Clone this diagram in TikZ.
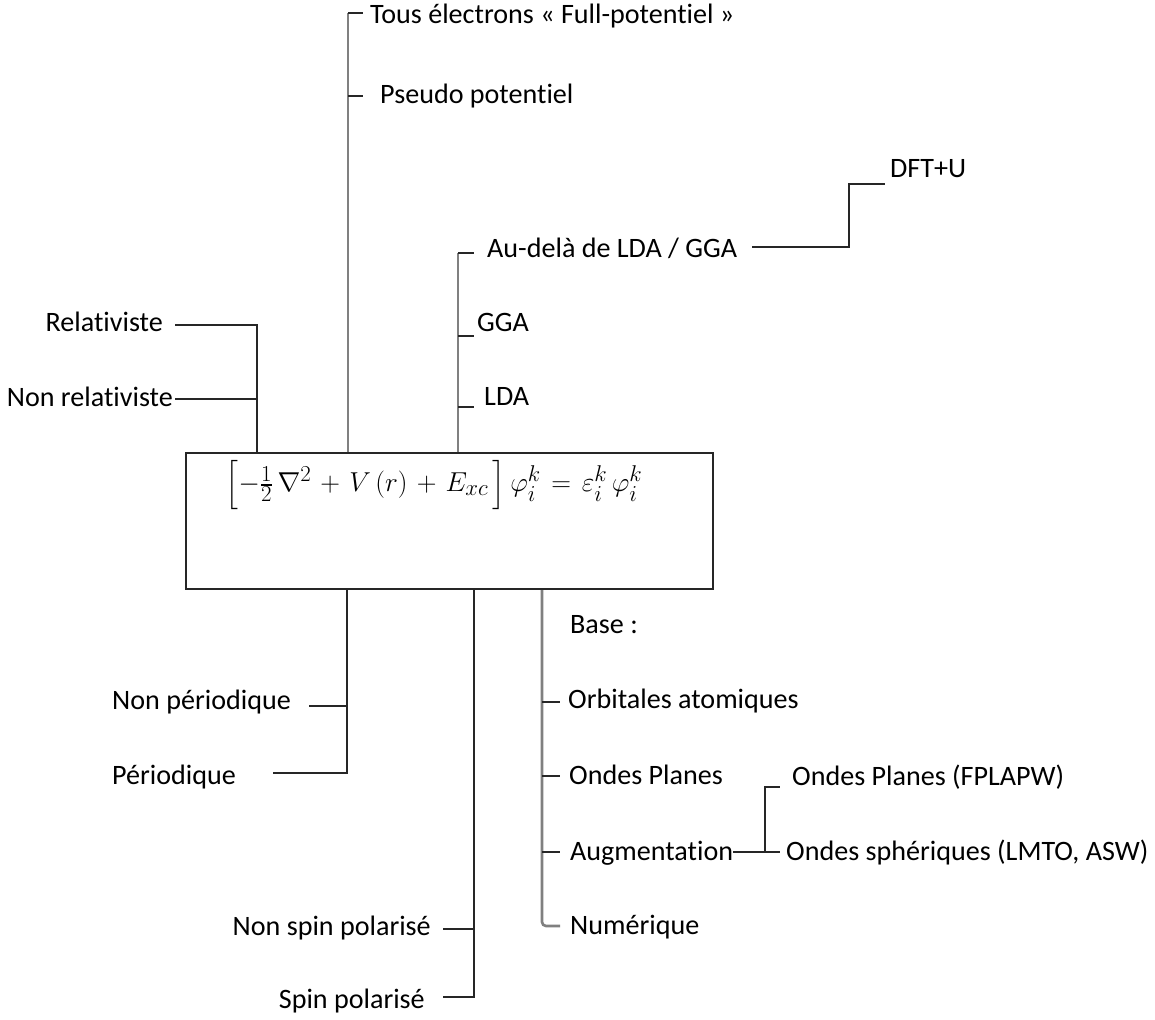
\documentclass[tikz,border=0pt]{standalone}
\usepackage{graphicx}
\usepackage{fontspec}
\setmainfont[Ligatures=CommonOff]{Carlito}
\usepackage{amsmath}
\begin{document}
\begin{tikzpicture}[x=1pt,y=-1pt,
  lbl/.style={anchor=base west, inner sep=0pt, font=\fontsize{28.1}{33}\selectfont},
  lblr/.style={anchor=base east, inner sep=0pt, font=\fontsize{28.1}{33}\selectfont},
  ln/.style={draw=black!85, line width=2pt},
  gln/.style={draw=black!50, line width=2.6pt}]
\useasboundingbox (0,0) rectangle (1155,1019);
\fill[white] (0,0) rectangle (1155,1019);

% central box
\node[draw=black!85, line width=2pt, minimum width=527pt, minimum height=136pt,
      anchor=north west, inner sep=0pt] (box) at (185,452) {};
\node[inner sep=0pt] (eq) at (434,485)
  {\scalebox{1.1}{\fontsize{31}{36}\selectfont \medmuskip=6mu plus 2mu\thickmuskip=7mu plus 3mu
   $\Bigl[-\tfrac{1}{2}\,\nabla^{2} + V\,(r) + E_{xc}\,\Bigr]\,\varphi_{i}^{k} = \varepsilon_{i}^{k}\,\varphi_{i}^{k}$}};

% left group
\node[lblr] (rel) at (163,331) {Relativiste};
\node[lblr] (nrel) at (173,406) {Non relativiste};
\coordinate (relA) at (175,325);
\coordinate (relJ) at (257,325);
\coordinate (nrelA) at (175,399);
\draw[ln] (relA) -- (relJ) -- (relJ |- box.north);
\draw[ln] (nrelA) -- (nrelA -| relJ);

% potential group
\coordinate (potT) at (348,13);
\coordinate (potP) at (348,96);
\node[lbl] (tous) at (370,24) {Tous électrons « Full-potentiel »};
\node[lbl] (pseudo) at (380,104) {Pseudo potentiel};
\draw[gln] (potT |- box.north) -- (potT);
\draw[ln] (potT) -- ++(15,0);
\draw[ln] (potP) -- ++(15,0);

% xc group
\coordinate (xcA) at (458,253);
\coordinate (xcG) at (458,336);
\coordinate (xcL) at (458,407);
\node[lbl] (audela) at (487,257) {Au-delà de LDA / GGA};
\node[lbl] (gga) at (477,331) {GGA};
\node[lbl] (lda) at (484,405) {LDA};
\draw[gln] (xcA |- box.north) -- (xcA);
\draw[ln] (xcA) -- ++(16,0);
\draw[ln] (xcG) -- ++(16,0);
\draw[ln] (xcL) -- ++(16,0);
\node[lbl] (dft) at (890,178) {DFT+U};
\coordinate (dftA) at (752,247);
\coordinate (dftJ) at (849,247);
\coordinate (dftB) at (885,184);
\draw[ln] (dftA) -- (dftJ) |- (dftB);

% periodicity group
\coordinate (perJ) at (347,773);
\node[lbl] (nper) at (112,709) {Non périodique};
\node[lbl] (per) at (112,784) {Périodique};
\draw[ln] (box.south -| perJ) -- (perJ) -- (273,773);
\draw[ln] (309,706) -- (347,706);

% spin group
\coordinate (spJ) at (474,997);
\node[lblr] (nspin) at (431,935) {Non spin polarisé};
\node[lblr] (spin) at (425,1008) {Spin polarisé};
\draw[ln] (box.south -| spJ) -- (spJ) -- (443,997);
\draw[ln] (443,929) -- (474,929);

% basis group
\coordinate (bJ) at (542,926);
\node[lbl] (base) at (570,633) {Base :};
\node[lbl] (orb) at (568,708) {Orbitales atomiques};
\node[lbl] (op) at (569,784) {Ondes Planes};
\node[lbl] (aug) at (570,860) {Augmentation};
\node[lbl] (num) at (570,934) {Numérique};
\draw[gln, rounded corners=4pt] (box.south -| bJ) -- (bJ) -- (560,926);
\draw[ln] (542,702) -- (560,702);
\draw[ln] (542,776) -- (560,776);
\draw[ln] (542,852) -- (560,852);
\node[lbl] (opf) at (792,785) {Ondes Planes (FPLAPW)};
\node[lbl] (osph) at (786,860) {Ondes sphériques (LMTO, ASW)};
\coordinate (augJ) at (765,852);
\draw[ln] (733,852) -- (780,852);
\draw[ln] (augJ) -- (765,787) -- (780,787);
\end{tikzpicture}
\end{document}
